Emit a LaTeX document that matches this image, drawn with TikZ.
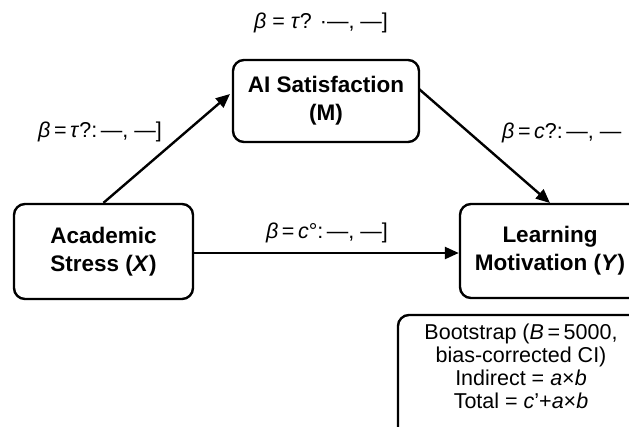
\documentclass[tikz,border=0pt]{standalone}
\usepackage{fontspec}
\setmainfont{Liberation Sans}
\usetikzlibrary{arrows.meta,calc}
\begin{document}
\begin{tikzpicture}[x=1pt,y=-1pt,
  varbox/.style={draw, line width=2.4pt, rounded corners=11pt, align=center,
    font=\fontsize{22.5}{28}\selectfont\bfseries, inner sep=0pt},
  conn/.style={line width=2.4pt, -{Triangle[length=14pt,width=12pt]}},
  coef/.style={font=\fontsize{21.5}{24}\selectfont, inner sep=0pt},
  note/.style={font=\fontsize{21.5}{23}\selectfont, inner sep=0pt, align=center},
  frame/.style={draw, line width=2.4pt, rounded corners=11pt}
]
\useasboundingbox (0,0) rectangle (629,426);
% variable boxes
\node[varbox, minimum width=179pt, minimum height=95pt] (X) at (103.5,251.5) {Academic\\Stress (\textit{X})};
\node[varbox, minimum width=186pt, minimum height=82pt] (M) at (326,101) {AI Satisfaction\\(M)};
\node[varbox, minimum width=180pt, minimum height=94pt] (Y) at (550,251) {Learning\\Motivation (\textit{Y})};
% free ends
\coordinate (mIn) at (230,94);
\coordinate (mOut) at (419,89);
\coordinate (yIn) at (550,203);
% connectors
\draw[conn] (X.north) -- (mIn);
\draw[conn] (mOut) -- (yIn);
\draw[conn] (X.east |- 0,253) -- (Y.west |- 0,253);
% coefficient labels
\node[coef] (la) at (321,23) {\textit{β} = \textit{τ}? ·—, —]};
\node[coef] (lb) at (100,132) {\textit{β}\,=\,\textit{τ}?:\,—, —]};
\node[coef] (lc) at (327,233) {\textit{β}\,=\,\textit{c}°:\,—, —]};
\node[coef, anchor=west] (ld) at (502,133) {\textit{β}\,=\,\textit{c}?:\,—, —};
% bootstrap note
\draw[frame] (398,450) -- (398,315) -- (650,315);
\node[note, anchor=north] (bt) at (521,324) {Bootstrap (\textit{B}\,=\,5000,\\bias-corrected CI)\\Indirect = \textit{a}×\textit{b}\\Total = \textit{c}'+\textit{a}×\textit{b}};
\end{tikzpicture}
\end{document}
